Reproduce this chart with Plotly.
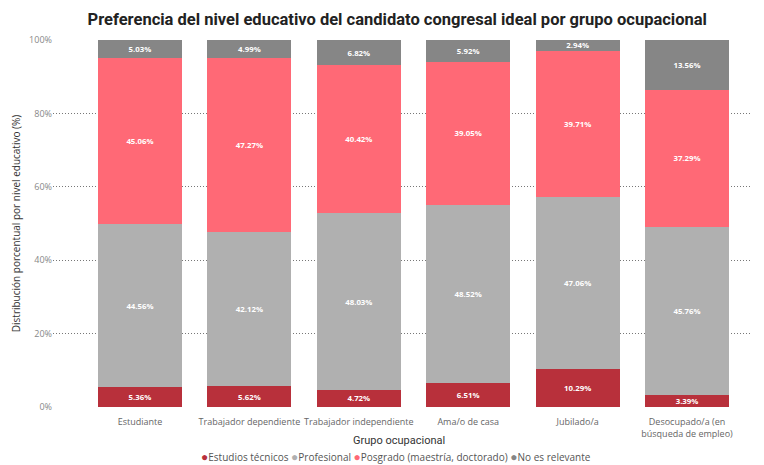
import plotly.graph_objects as go

categories = [
    "Estudiante",
    "Trabajador dependiente",
    "Trabajador independiente",
    "Ama/o de casa",
    "Jubilado/a",
    "Desocupado/a (en<br>búsqueda de empleo)",
]
estudios_tecnicos = [5.36, 5.62, 4.72, 6.51, 10.29, 3.39]
profesional = [44.56, 42.12, 48.03, 48.52, 47.06, 45.76]
posgrado = [45.06, 47.27, 40.42, 39.05, 39.71, 37.29]
no_relevante = [5.03, 4.99, 6.82, 5.92, 2.94, 13.56]

series = [
    ("Estudios técnicos", estudios_tecnicos, "#B8303B"),
    ("Profesional", profesional, "#B0B0B0"),
    ("Posgrado (maestría, doctorado)", posgrado, "#FF6976"),
    ("No es relevante", no_relevante, "#868686"),
]

x_idx = list(range(len(categories)))
fig = go.Figure()
for name, vals, color in series:
    fig.add_trace(go.Bar(
        x=x_idx, y=vals, name=name, width=0.768,
        marker=dict(color=color, line=dict(width=0)),
        text=[f"{v:.2f}%" for v in vals], textposition="inside",
        insidetextanchor="middle",
        textfont=dict(color="white", size=9, family="Open Sans", weight="bold"),
        showlegend=False, hoverinfo="skip",
    ))

# x-axis title placed as an annotation for tight vertical spacing
fig.add_annotation(
    text="Grupo ocupacional", xref="paper", yref="paper", x=0.495, y=-0.091,
    xanchor="center", yanchor="middle", showarrow=False,
    font=dict(size=11, color="#333333", family="Roboto"),
)

# compact legend line with round colour markers
legend_text = " ".join(
    f"<span style='color:{color};font-size:12px'>●</span>{name}" for name, _, color in series
)
fig.add_annotation(
    text=legend_text, xref="paper", yref="paper", x=0.49, y=-0.136,
    xanchor="center", yanchor="middle", showarrow=False,
    font=dict(size=10, color="#555555", family="Open Sans"),
)

fig.update_layout(
    width=764, height=465,
    margin=dict(l=53, r=12, t=40, b=58, autoexpand=False),
    barmode="stack",
    plot_bgcolor="white", paper_bgcolor="white",
    uniformtext=dict(minsize=7, mode="show"),
    showlegend=False,
    title=dict(
        text="Preferencia del nivel educativo del candidato congresal ideal por grupo ocupacional",
        x=0.52, xanchor="center", y=0.958, yanchor="middle",
        font=dict(family="Roboto", size=16.5, color="#222222", weight="bold"),
    ),
    font=dict(family="Open Sans", color="#666666"),
    xaxis=dict(
        range=[-0.795, 5.594],
        tickmode="array", tickvals=x_idx, ticktext=categories,
        tickfont=dict(size=9, color="#666666"),
        ticklabelstandoff=8,
        showgrid=False, zeroline=False, showline=False, ticks="",
    ),
    yaxis=dict(
        range=[0, 100],
        tickvals=[0, 20, 40, 60, 80, 100],
        ticktext=["0%", "20%", "40%", "60%", "80%", "100%"],
        tickfont=dict(size=9, color="#888888"),
        showgrid=True, gridcolor="#777777", griddash="1px,2px", gridwidth=1,
        zeroline=False, showline=False, ticks="",
        title=dict(text="Distribución porcentual por nivel educativo (%)",
                   font=dict(size=10, color="#333333"), standoff=6),
    ),
)

fig.write_html("out.html")
